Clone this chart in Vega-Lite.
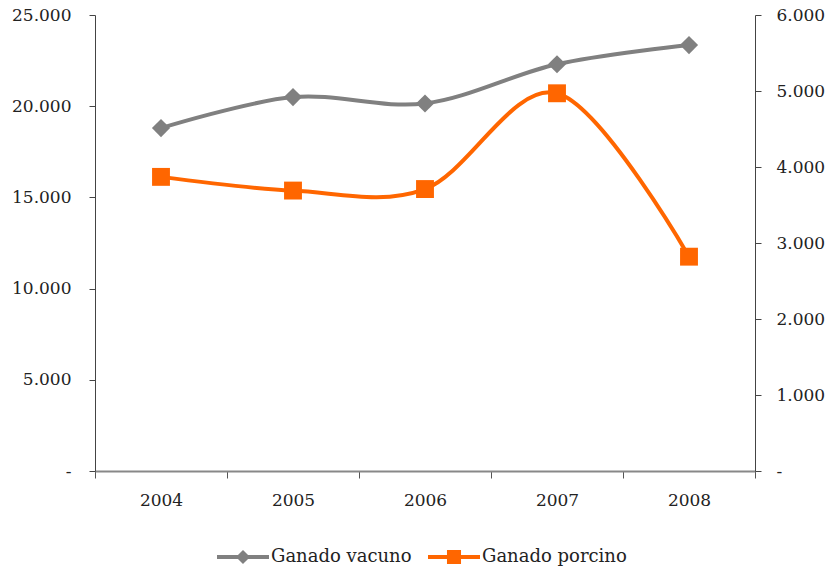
{
  "$schema": "https://vega.github.io/schema/vega-lite/v6.json",
  "width": 660,
  "height": 456,
  "autosize": {"type": "none"},
  "padding": {"left": 95, "top": 15, "right": 75, "bottom": 99},
  "background": "white",
  "config": {
    "view": {"stroke": null},
    "font": "DejaVu Serif",
    "axis": {"labelFont": "DejaVu Serif", "labelFontSize": 17, "labelColor": "#222", "grid": false, "ticks": true}
  },
  "data": {
    "values": [
      {"year": "2004", "serie": "Ganado vacuno", "value": 18800},
      {"year": "2005", "serie": "Ganado vacuno", "value": 20500},
      {"year": "2006", "serie": "Ganado vacuno", "value": 20150},
      {"year": "2007", "serie": "Ganado vacuno", "value": 22300},
      {"year": "2008", "serie": "Ganado vacuno", "value": 23350},
      {"year": "2004", "serie": "Ganado porcino", "value": 3870},
      {"year": "2005", "serie": "Ganado porcino", "value": 3690},
      {"year": "2006", "serie": "Ganado porcino", "value": 3710},
      {"year": "2007", "serie": "Ganado porcino", "value": 4970},
      {"year": "2008", "serie": "Ganado porcino", "value": 2820}
    ]
  },
  "encoding": {
    "x": {
      "field": "year", "type": "ordinal",
      "scale": {"type": "band", "paddingInner": 0, "paddingOuter": 0},
      "axis": {"title": null, "labelAngle": 0, "tickBand": "extent", "domainColor": "#888", "domainWidth": 2, "tickColor": "#555", "tickSize": 7, "labelPadding": 14}
    },
    "color": {
      "field": "serie", "type": "nominal",
      "scale": {"domain": ["Ganado vacuno", "Ganado porcino"], "range": ["#808080", "#FF6600"]},
      "legend": {
        "title": null, "orient": "none", "direction": "horizontal",
        "legendX": 122, "legendY": 516,
        "symbolSize": 2704, "symbolStrokeWidth": 0,
        "labelFontSize": 18, "labelFont": "DejaVu Serif", "labelColor": "#222",
        "labelOffset": 2, "columnPadding": 16,
        "encode": {
          "symbols": {
            "update": {
              "shape": {"signal": "datum.value === 'Ganado vacuno' ? 'M-1,-0.08H1V0.08H-1Z M0,-0.27L0.27,0L0,0.27L-0.27,0Z' : 'M-1,-0.08H1V0.08H-1Z M-0.27,-0.27H0.27V0.27H-0.27Z'"},
              "strokeWidth": {"value": 0}
            }
          }
        }
      }
    }
  },
  "layer": [
    {
      "transform": [{"filter": "datum.serie === 'Ganado vacuno'"}],
      "encoding": {
        "y": {
          "field": "value", "type": "quantitative",
          "scale": {"domain": [0, 25000], "nice": false},
          "axis": {"title": null, "orient": "left", "values": [0, 5000, 10000, 15000, 20000, 25000],
            "labelExpr": "datum.value === 0 ? '-' : replace(format(datum.value, ','), ',', '.')",
            "domainColor": "#444", "tickColor": "#444", "tickSize": 6, "labelPadding": 18}
        }
      },
      "layer": [
        {"mark": {"type": "line", "interpolate": "cardinal", "tension": 0, "strokeWidth": 4}},
        {"mark": {"type": "point", "shape": "diamond", "filled": true, "size": 330, "opacity": 1}}
      ]
    },
    {
      "transform": [{"filter": "datum.serie === 'Ganado porcino'"}],
      "encoding": {
        "y": {
          "field": "value", "type": "quantitative",
          "scale": {"domain": [0, 6000], "nice": false},
          "axis": {"title": null, "orient": "right", "values": [0, 1000, 2000, 3000, 4000, 5000, 6000],
            "labelExpr": "datum.value === 0 ? '-' : replace(format(datum.value, ','), ',', '.')",
            "domainColor": "#444", "tickColor": "#444", "tickSize": 6, "labelPadding": 15}
        }
      },
      "layer": [
        {"mark": {"type": "line", "interpolate": "cardinal", "tension": 0, "strokeWidth": 4}},
        {"mark": {"type": "point", "shape": "square", "filled": true, "size": 320, "opacity": 1}}
      ]
    }
  ],
  "resolve": {"scale": {"y": "independent"}}
}
